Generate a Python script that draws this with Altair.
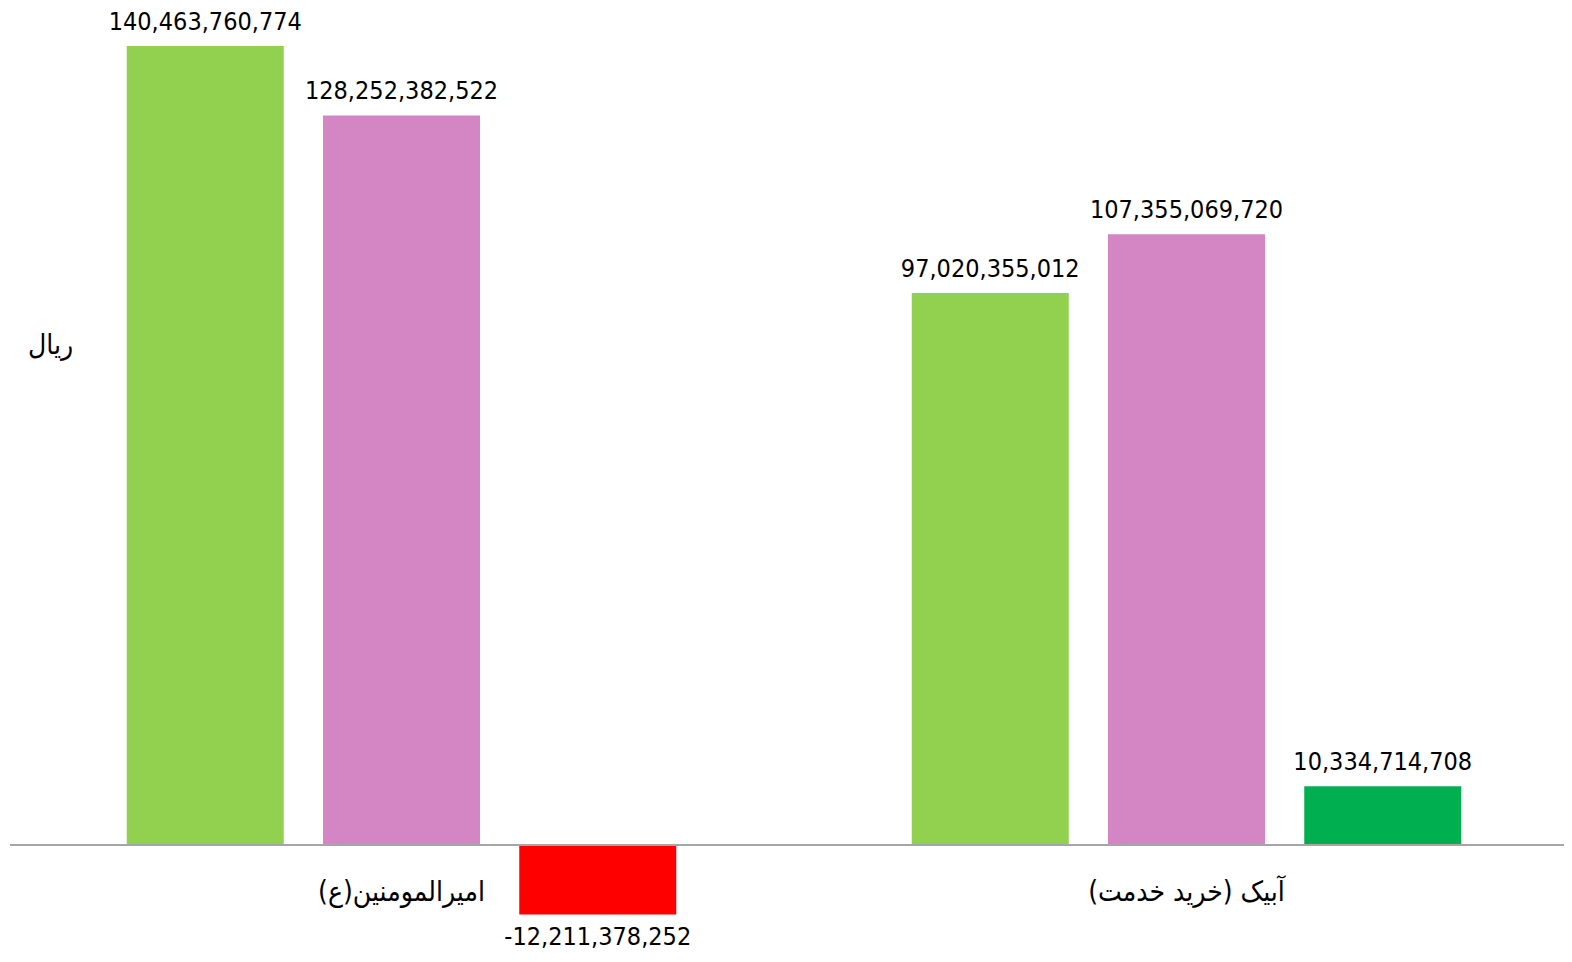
import altair as alt
import pandas as pd

categories = ["امیرالمومنین(ع)", "آبیک (خرید خدمت)"]
series = ["درآمد", "هزینه", "سود (زیان)"]
values_s1 = [140463760774, 97020355012]
values_s2 = [128252382522, 107355069720]
values_s3 = [-12211378252, 10334714708]
unit_label = "ریال"

rows = []
for i, c in enumerate(categories):
    for s, vals in zip(series, [values_s1, values_s2, values_s3]):
        v = vals[i]
        kind = s if s != series[2] else ("سود" if v >= 0 else "زیان")
        rows.append({"category": c, "series": s, "value": v, "kind": kind,
                     "label": f"{v:,}"})
df = pd.DataFrame(rows)

FONT = "DejaVu Sans Condensed, DejaVu Sans, sans-serif"
Y_DOMAIN = [-4.746e9, 147.144e9]

x_enc = alt.X("category:N", sort=categories,
              scale=alt.Scale(range=[1, 1571], paddingInner=0, paddingOuter=0),
              axis=alt.Axis(title=None, domain=False, ticks=False, labelAngle=0,
                            labelFontSize=28, labelFont=FONT, labelColor="#000000",
                            labelBaseline="middle", labelPadding=20, labelLimit=0))
xo_enc = alt.XOffset("series:N", sort=series,
                     scale=alt.Scale(paddingInner=0.2, paddingOuter=0.6))
y_enc = alt.Y("value:Q",
              scale=alt.Scale(domain=Y_DOMAIN, nice=False, zero=False),
              axis=alt.Axis(title=unit_label, titleAngle=0, titleX=42, titleY=337,
                            titleAlign="center", titleBaseline="middle",
                            titleFontSize=28, titleFont=FONT, titleFontWeight="normal",
                            titleColor="#000000",
                            labels=False, ticks=False, domain=False, grid=False))

base = alt.Chart(df)

bars = base.mark_bar().encode(
    x=x_enc, xOffset=xo_enc, y=y_enc,
    color=alt.Color("kind:N",
                    scale=alt.Scale(domain=[series[0], series[1], "سود", "زیان"],
                                    range=["#92D050", "#D486C4", "#00B050", "#FF0000"]),
                    legend=None),
)

zero_rule = base.mark_rule(color="#A6A6A6", strokeWidth=2).encode(
    y=alt.datum(0), x=alt.value(2), x2=alt.value(1556))

pos_text = base.transform_filter("datum.value >= 0").mark_text(
    font=FONT, fontSize=25, baseline="alphabetic", dy=-16, color="#000000"
).encode(x=x_enc, xOffset=xo_enc, y=y_enc, text="label:N")

neg_text = base.transform_filter("datum.value < 0").mark_text(
    font=FONT, fontSize=25, baseline="alphabetic", dy=31, color="#000000"
).encode(x=x_enc, xOffset=xo_enc, y=y_enc, text="label:N")

chart = alt.layer(bars, zero_rule, pos_text, neg_text).properties(
    width=1556, height=864,
    padding={"left": 0, "top": 0, "right": 0, "bottom": 82},
    autosize=alt.AutoSizeParams(type="none"),
).configure_view(stroke=None)

chart.save("out.html", embed_options={"renderer": "svg", "actions": False})
